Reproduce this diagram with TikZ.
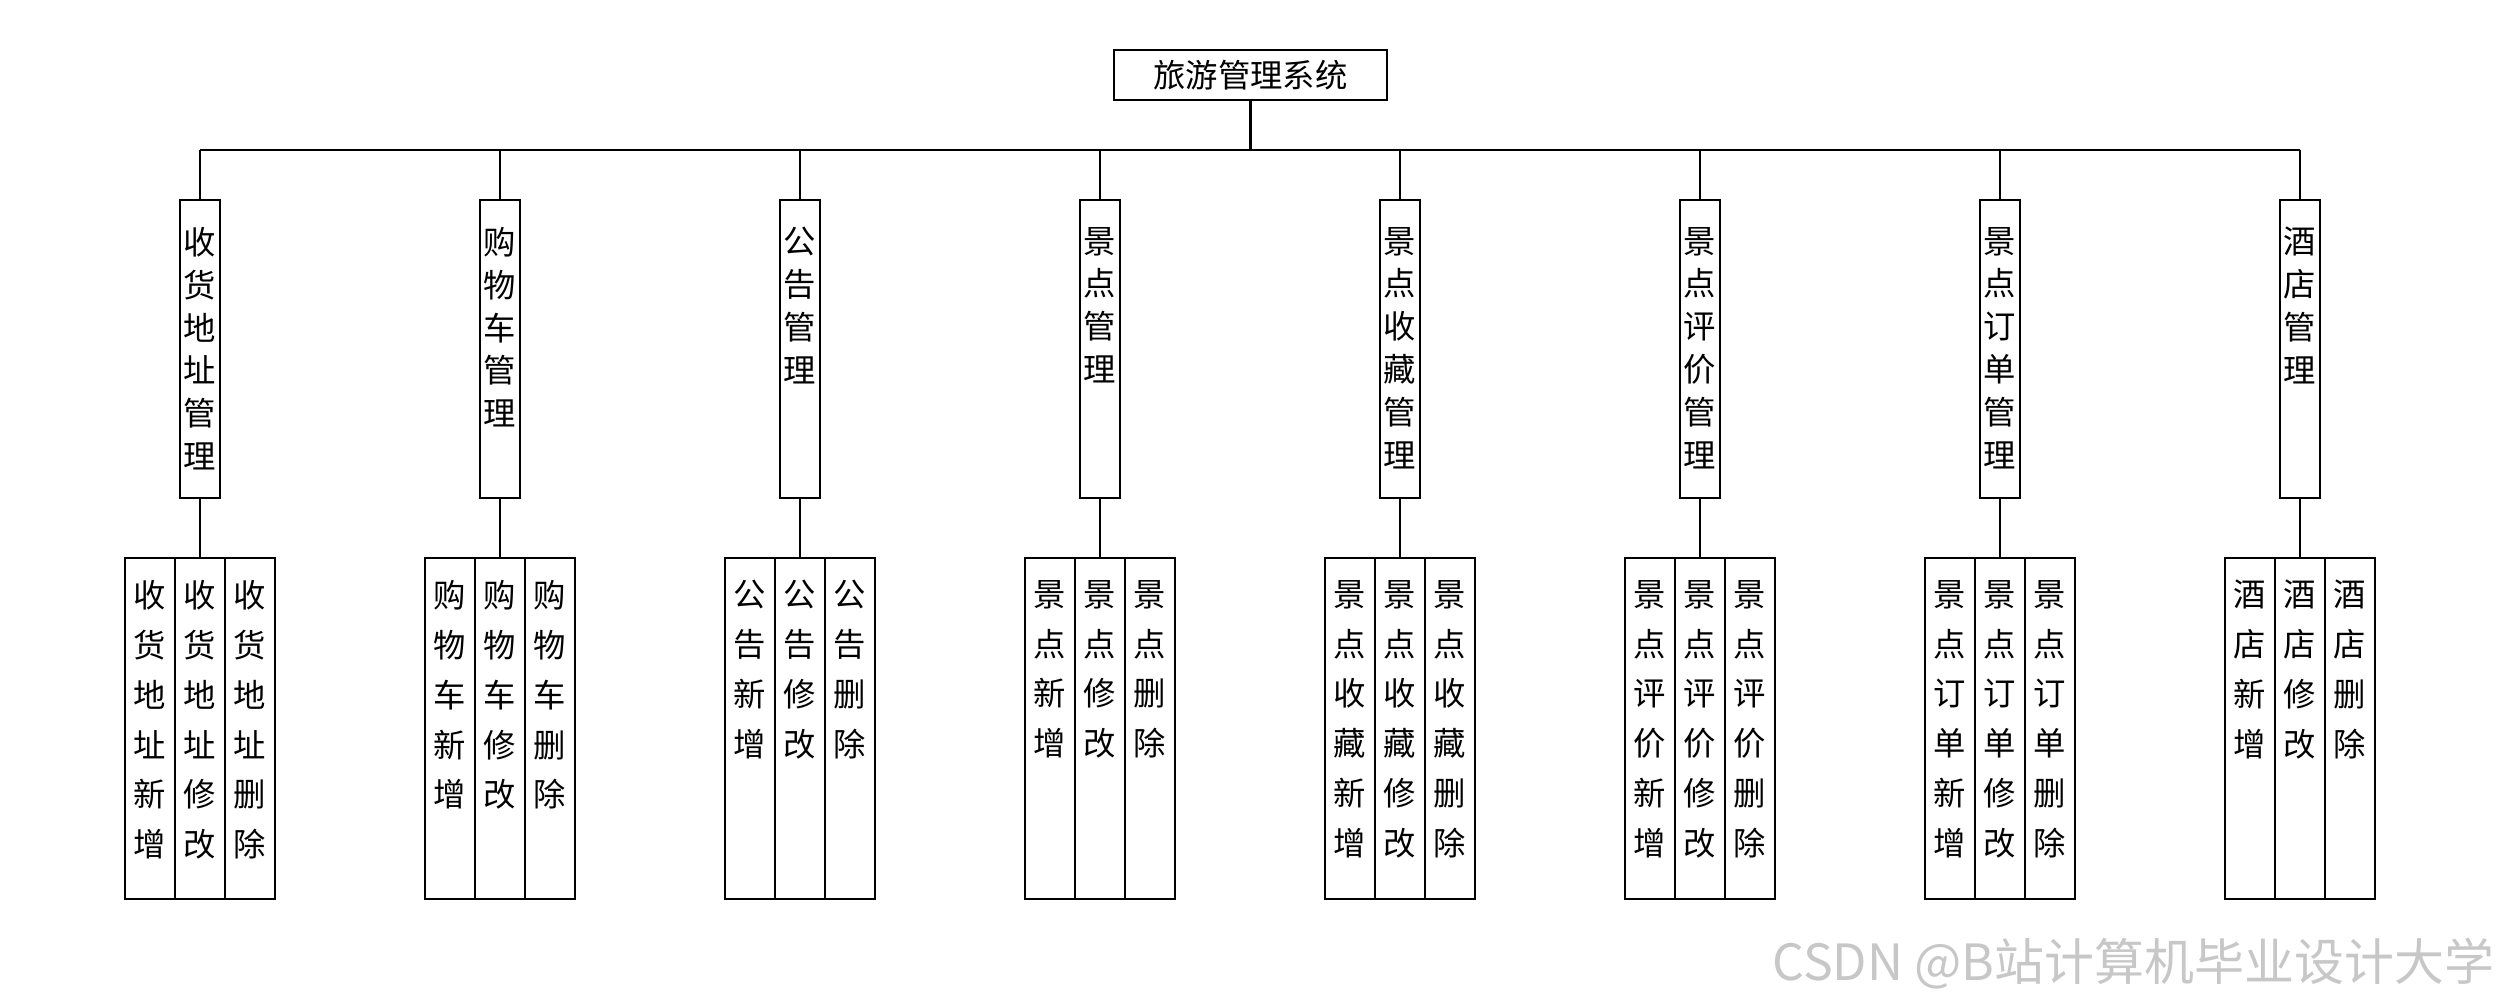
\documentclass[tikz,border=0pt]{standalone}
\usepackage{fontspec}
\setmainfont{Noto Sans CJK SC}
\begin{document}
\begin{tikzpicture}[x=0.01cm,y=-0.01cm,line width=0.6pt,
  topbox/.style={draw,minimum width=2.73cm,minimum height=0.5cm,inner sep=0,font=\fontsize{9.2pt}{11pt}\selectfont},
  midbox/.style={draw,minimum width=0.4cm,minimum height=2.98cm,inner sep=0},
  leafbox/.style={draw,minimum width=0.5cm,minimum height=3.41cm,inner sep=0},
  vtxtA/.style={anchor=north,inner sep=0,align=center,font=\fontsize{9.2pt}{12.2pt}\selectfont},
  vtxtB/.style={anchor=north,inner sep=0,align=center,font=\fontsize{9.2pt}{14.2pt}\selectfont},
  wm/.style={anchor=south east,inner sep=0,text=black!22,font=\fontsize{14.2pt}{17pt}\selectfont}]
\useasboundingbox[fill=white] (0,0) rectangle (2500,1000);
\node[topbox] (top) at (1250.5,75) {旅游管理系统};
\coordinate (hc) at (1250.5,150);
\draw (top.south) -- (hc);
\foreach \i/\pre/\full in {
  1/{收\\货\\地\\址}/{收\\货\\地\\址\\管\\理},
  2/{购\\物\\车}/{购\\物\\车\\管\\理},
  3/{公\\告}/{公\\告\\管\\理},
  4/{景\\点}/{景\\点\\管\\理},
  5/{景\\点\\收\\藏}/{景\\点\\收\\藏\\管\\理},
  6/{景\\点\\评\\价}/{景\\点\\评\\价\\管\\理},
  7/{景\\点\\订\\单}/{景\\点\\订\\单\\管\\理},
  8/{酒\\店}/{酒\\店\\管\\理}}{
  \pgfmathsetmacro\cx{200+300*(\i-1)}
  \coordinate (h\i) at (\cx,150);
  \node[midbox] (m\i) at (\cx,349) {};
  \node[vtxtA] (m\i t) at (\cx,226) {\full};
  \foreach \j/\act in {1/{新\\增},2/{修\\改},3/{删\\除}}{
    \node[leafbox] (l\i\j) at (\cx+50*\j-100,728.5) {};
    \node[vtxtB] (l\i\j t) at (\cx+50*\j-100,579) {\pre\\\act};
  }
  \draw (h\i) -- (m\i.north);
  \draw (m\i.south) -- (l\i2.north);
}
\draw (h1) -- (h8);
\node[wm] (wmark) at (2495,990) {CSDN @B站计算机毕业设计大学};
\end{tikzpicture}
\end{document}
